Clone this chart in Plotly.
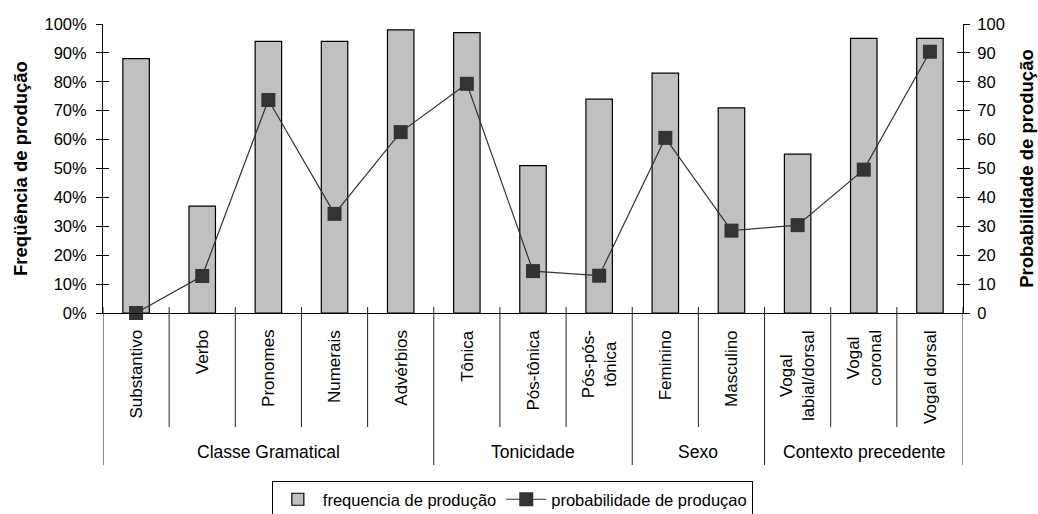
import plotly.graph_objects as go

categories = ["Substantivo", "Verbo", "Pronomes", "Numerais", "Advérbios",
              "Tônica", "Pós-tônica", "Pós-pós-<br>tônica",
              "Feminino", "Masculino",
              "Vogal<br>labial/dorsal", "Vogal<br>coronal", "Vogal dorsal"]
groups = ["Classe Gramatical", "Tonicidade", "Sexo", "Contexto precedente"]
group_sizes = [5, 3, 2, 3]
frequencia = [88, 37, 94, 94, 98, 97, 51, 74, 83, 71, 55, 95, 95]
probabilidade = [0, 12.8, 73.7, 34.3, 62.6, 79.3, 14.5, 12.9, 60.6, 28.5, 30.4, 49.6, 90.4]
left_ticks = list(range(0, 101, 10))

FONT = "Liberation Sans, Arial, sans-serif"
n = len(categories)
xs = list(range(n))

# plot geometry (px) for converting label offsets to paper coordinates
PLOT_H = 289.0

def py(px_below):
    return -px_below / PLOT_H

fig = go.Figure()
fig.add_trace(go.Bar(
    x=xs, y=frequencia, name="frequencia de produção",
    marker=dict(color="#C0C0C0", line=dict(color="black", width=1.2)),
    width=0.4, yaxis="y"))
fig.add_trace(go.Scatter(
    x=xs, y=probabilidade, name="probabilidade de produçao", yaxis="y2",
    mode="lines+markers", line=dict(color="#333333", width=1.2),
    marker=dict(symbol="square", size=14, color="#333333"), cliponaxis=False))
# invisible helper traces so tick-crossing overlay axes are drawn
fig.add_trace(go.Scatter(x=[0], y=[0], yaxis="y3", mode="markers",
                         marker=dict(opacity=0), showlegend=False, hoverinfo="skip"))
fig.add_trace(go.Scatter(x=[0], y=[0], yaxis="y4", mode="markers",
                         marker=dict(opacity=0), showlegend=False, hoverinfo="skip"))

shapes = []
annotations = []
# category separators
for b in range(n + 1):
    shapes.append(dict(type="line", xref="x", yref="paper", x0=b - 0.5, x1=b - 0.5,
                       y0=6 / PLOT_H, y1=py(114), line=dict(color="#222222", width=1)))
# group separators (longer)
pos = 0
bounds = [0]
for s in group_sizes:
    pos += s
    bounds.append(pos)
for b in bounds:
    shapes.append(dict(type="line", xref="x", yref="paper", x0=b - 0.5, x1=b - 0.5,
                       y0=py(114), y1=py(152), line=dict(color="#222222", width=1)))

for i, c in enumerate(categories):
    annotations.append(dict(x=i, xref="x", y=py(15), yref="paper", text=c,
                            textangle=-90, xanchor="center", yanchor="top",
                            showarrow=False, font=dict(family=FONT, size=17, color="black")))
for g, a, b in zip(groups, bounds[:-1], bounds[1:]):
    annotations.append(dict(x=(a + b - 1) / 2, xref="x", y=py(139), yref="paper", text=g,
                            xanchor="center", yanchor="middle", showarrow=False,
                            font=dict(family=FONT, size=17.5, color="black")))

fig.update_layout(
    width=1038, height=514,
    margin=dict(l=103, r=75, t=24, b=201, autoexpand=False),
    paper_bgcolor="white", plot_bgcolor="white",
    font=dict(family=FONT, size=16, color="black"),
    showlegend=True,
    bargap=0.6,
    xaxis=dict(range=[-0.5, n - 0.5], showticklabels=False, showgrid=False,
               zeroline=False, showline=True, linecolor="black", linewidth=1,
               ticks="", fixedrange=True),
    yaxis=dict(range=[0, 100], tickvals=left_ticks,
               ticktext=[f"{v}%" for v in left_ticks],
               showgrid=False, zeroline=False, showline=True, linecolor="black",
               linewidth=1, ticks="outside", ticklen=6, tickcolor="black",
               ticklabelstandoff=6, automargin=False,
               title=dict(text="<b>Freqüência de produção</b>",
                          font=dict(family=FONT, size=18.5), standoff=12),
               tickfont=dict(size=16.5)),
    yaxis2=dict(range=[0, 100], tickvals=left_ticks, overlaying="y", side="right",
                showgrid=False, zeroline=False, showline=True, linecolor="black",
                linewidth=1, ticks="outside", ticklen=6, tickcolor="black",
                ticklabelstandoff=4, automargin=False,
                title=dict(text="<b>Probabilidade de produção</b>",
                           font=dict(family=FONT, size=18.5), standoff=16),
                tickfont=dict(size=16.5)),
    yaxis3=dict(range=[0, 100], tickvals=left_ticks, overlaying="y", side="left",
                showgrid=False, zeroline=False, showline=False, showticklabels=False,
                ticks="inside", ticklen=6, tickcolor="black", automargin=False),
    yaxis4=dict(range=[0, 100], tickvals=left_ticks, overlaying="y", side="right",
                showgrid=False, zeroline=False, showline=False, showticklabels=False,
                ticks="inside", ticklen=6, tickcolor="black", automargin=False),
    legend=dict(orientation="h", x=0.476, xanchor="center", y=py(168), yanchor="top",
                bordercolor="black", borderwidth=1, font=dict(family=FONT, size=16.5),
                itemwidth=40, tracegroupgap=0),
    shapes=shapes, annotations=annotations,
)

fig.write_html("out.html", config={"displayModeBar": False},
               post_script="document.body.style.margin='0';document.body.style.overflow='hidden';")
